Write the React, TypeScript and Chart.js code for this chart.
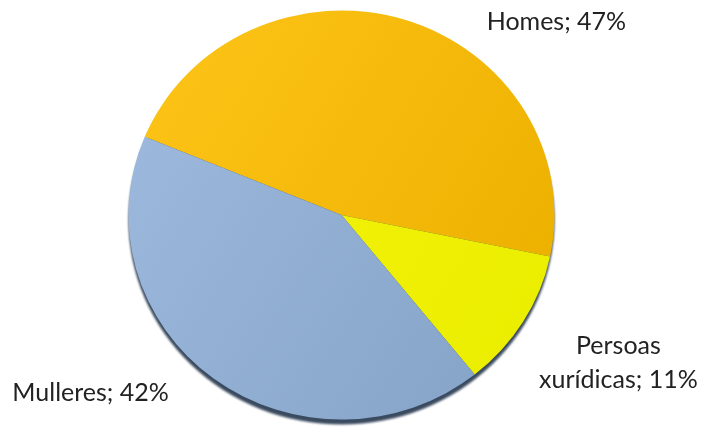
import React, { useEffect, useRef } from 'react';
import { Chart, registerables } from 'chart.js';

Chart.register(...registerables);

const categories = ['Homes', 'Persoas xurídicas', 'Mulleres'];
const values = [47, 11, 42];
const labelLines = [['Homes'], ['Persoas', 'xurídicas'], ['Mulleres']];
const colorStops = [
  ['#FEC519', '#EDB100'],
  ['#F6F40C', '#ECEE00'],
  ['#9FBBE0', '#87A4C9'],
];
// label anchor (block centre) relative to pie centre, in units of radius
const labelAnchors = [
  [1.009, -0.906],
  [1.3, 0.694],
  [-1.178, 0.835],
];

const SY = 0.96;
const FONT = '25px Lato';
const LINE_H = 34;

const ellipsePlugin = {
  id: 'ellipse3d',
  beforeDatasetsDraw(chart: any) {
    const arc = chart.getDatasetMeta(0).data[0];
    if (!arc) return;
    const { x, y, outerRadius } = arc;
    const ctx = chart.ctx;
    ctx.save();
    ctx.translate(x, y);
    ctx.scale(1, SY);
    ctx.translate(-x, -y);
    ctx.save();
    ctx.beginPath();
    ctx.arc(x, y + 5 / SY, outerRadius, 0, Math.PI * 2);
    ctx.fillStyle = '#3a4a5f';
    ctx.filter = 'blur(1px)';
    ctx.fill();
    ctx.restore();
  },
  afterDatasetsDraw(chart: any) {
    chart.ctx.restore();
  },
};

const labelPlugin = {
  id: 'outLabels',
  afterDraw(chart: any) {
    const arc = chart.getDatasetMeta(0).data[0];
    if (!arc) return;
    const { x, y, outerRadius } = arc;
    const ctx = chart.ctx;
    ctx.save();
    ctx.font = FONT;
    ctx.fillStyle = '#222222';
    ctx.textAlign = 'center';
    ctx.textBaseline = 'middle';
    values.forEach((v, i) => {
      const lines = labelLines[i].slice();
      lines[lines.length - 1] = `${lines[lines.length - 1]}; ${v}%`;
      const cx = x + labelAnchors[i][0] * outerRadius;
      const cy = y + labelAnchors[i][1] * outerRadius;
      const startY = cy - ((lines.length - 1) * LINE_H) / 2;
      lines.forEach((ln, j) => ctx.fillText(ln, cx, startY + j * LINE_H));
    });
    ctx.restore();
  },
};

export default function App() {
  const ref = useRef<HTMLCanvasElement>(null);
  useEffect(() => {
    if (!ref.current) return;
    const chart = new Chart(ref.current, {
      type: 'pie',
      data: {
        labels: categories,
        datasets: [
          {
            data: values,
            borderWidth: 0,
            backgroundColor: (c: any) => {
              const ch = c.chart;
              const ca = ch.chartArea;
              const stops = colorStops[c.dataIndex];
              if (!ca) return stops[0];
              const g = ch.ctx.createLinearGradient(ca.left, ca.top, ca.right, ca.top + (ca.bottom - ca.top) * 0.6);
              g.addColorStop(0, stops[0]);
              g.addColorStop(1, stops[1]);
              return g;
            },
          },
        ],
      },
      options: {
        responsive: false,
        animation: false,
        events: [],
        rotation: 292.5,
        layout: { padding: { left: 128, right: 150, top: 2, bottom: 2 } },
        plugins: { legend: { display: false }, tooltip: { enabled: false } },
      },
      plugins: [ellipsePlugin, labelPlugin],
    });
    return () => chart.destroy();
  }, []);
  return (
    <canvas
      ref={ref}
      width={705}
      height={430}
      style={{ position: 'fixed', left: 0, top: 0, display: 'block', background: '#ffffff' }}
    />
  );
}
